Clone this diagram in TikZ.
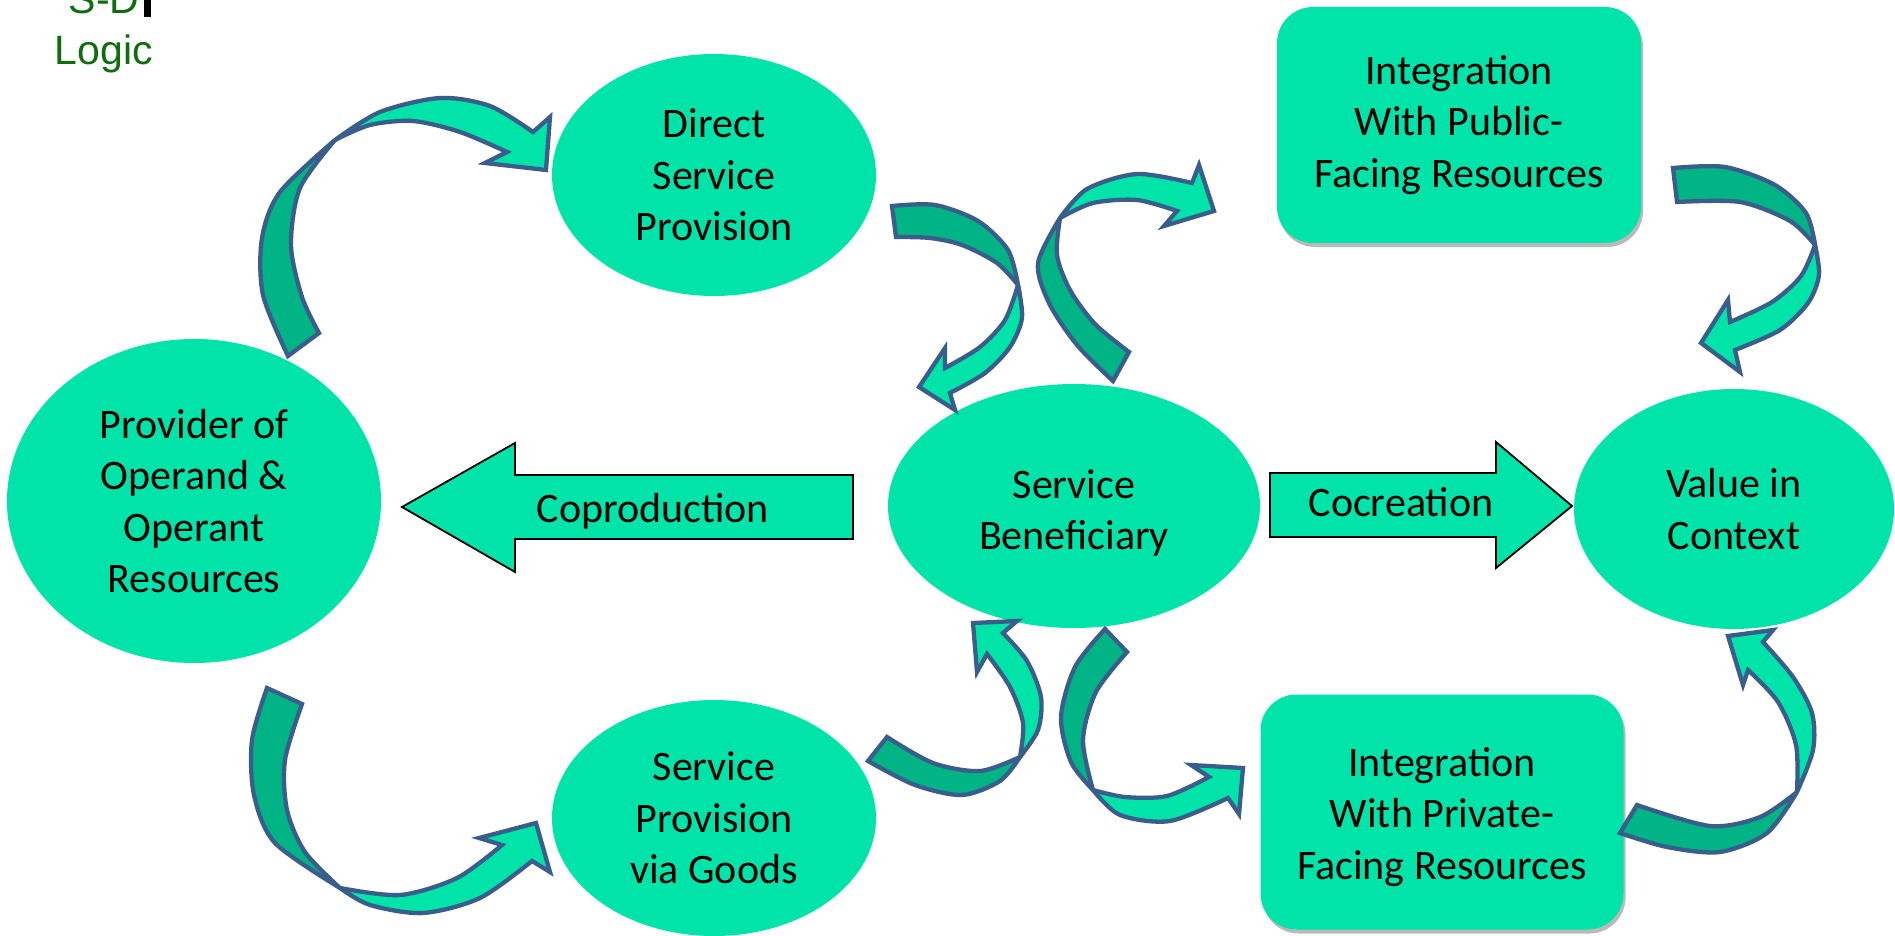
\documentclass[tikz,border=0pt]{standalone}
\usepackage{fontspec}
\setmainfont{Carlito}
\newfontfamily\logofont{Liberation Sans}
\usetikzlibrary{shapes.geometric,shadows}

\definecolor{mint}{HTML}{00E4A9}
\definecolor{mintdark}{HTML}{00B486}
\definecolor{rim}{HTML}{3A5E8C}
\definecolor{logogreen}{HTML}{0E6E0E}

\begin{document}
\begin{tikzpicture}[x=1pt,y=-1pt,
  labelfont/.style={font=\fontsize{42pt}{51.5pt}\selectfont},
  bubble/.style={ellipse, fill=mint, inner sep=0pt, align=center, labelfont},
  card/.style={rectangle, rounded corners=36pt, fill=mint, inner sep=0pt,
    drop shadow={shadow xshift=2pt, shadow yshift=-4pt, fill=black!45, opacity=0.6}},
  cardtext/.style={align=center, inner sep=0pt, labelfont},
  blockarrow/.style={fill=mint, draw=black, line width=1.8pt, line join=miter},
  backband/.style={fill=mintdark, draw=rim, line width=4.3pt, line join=miter, miter limit=4},
  frontband/.style={fill=mint, draw=rim, line width=4.3pt, line join=miter, miter limit=4},
  logo/.style={font=\logofont\fontsize{41pt}{49pt}\selectfont, text=logogreen, anchor=base, inner sep=0pt}]

\useasboundingbox (0,0) rectangle (1895,936);

% title in the corner
\node[logo] (sd) at (104,14) {S-D};
\node[logo] (logic) at (104,65) {Logic};
\fill (144,0) rectangle (151,17);

% main bubbles
\node[bubble, minimum width=374pt, minimum height=324pt] (provider) at (194,501)
  {Provider of\\Operand \&\\Operant\\Resources};
\node[bubble, minimum width=324pt, minimum height=242pt] (direct) at (714,175)
  {Direct\\Service\\Provision};
\node[bubble, minimum width=324pt, minimum height=236pt] (goods) at (714,818)
  {Service\\Provision\\via Goods};
\node[bubble, minimum width=372pt, minimum height=244pt] (benef) at (1074,506) {};
\node[cardtext] (beneftext) at ([yshift=-7pt]benef.center) {Service\\Beneficiary};
\node[bubble, minimum width=320pt, minimum height=240pt] (value) at (1734,509)
  {Value in\\Context};

% resource integration cards
\node[card, minimum width=364pt, minimum height=236pt] (public) at (1459,125) {};
\node[cardtext] (publictext) at (public.center) {Integration\\With Public-\\Facing Resources};
\node[card, minimum width=363pt, minimum height=235pt] (private) at (1442,812) {};
\node[cardtext] (privatetext) at ([yshift=-5pt]private.center) {Integration\\With Private-\\Facing Resources};

% block arrows
\draw[blockarrow] (853,475) -- (515,475) -- (515,443) -- (402,507) -- (515,572)
  -- (515,539) -- (853,539) -- cycle;
\node[labelfont, anchor=base, inner sep=0pt] (coprod) at (653,522) {Coproduction};

\draw[blockarrow] (1270,473) -- (1496,473) -- (1496,442) -- (1572,506) -- (1496,568)
  -- (1496,537) -- (1270,537) -- cycle;
\node[labelfont, anchor=base, inner sep=0pt] (cocreate) at (1401,516) {Cocreation};

% curved arrow: provider -> direct provision
\filldraw[backband] plot[smooth] coordinates {(288,356) (263,295) (262,238) (280,192) (335,140)}
  -- plot[smooth] coordinates {(335,140) (300,188) (291,245) (302,297) (319,333)} -- cycle;
\filldraw[frontband] plot[smooth] coordinates {(335,140) (380,112) (440,98) (490,106) (533,132)}
  -- (550,117) -- (546,170) -- (485,163) -- (507,152)
  -- plot[smooth] coordinates {(507,152) (460,132) (413,121) (370,125) (335,140)} -- cycle;

% curved arrow: direct provision -> beneficiary
\filldraw[backband] plot[smooth] coordinates {(892,206) (935,205) (978,221) (1008,250) (1018,285)}
  -- plot[smooth] coordinates {(1018,285) (997,263) (962,245) (930,238) (896,237)} -- cycle;
\filldraw[frontband] plot[smooth] coordinates {(1018,285) (1022,318) (1010,347) (985,373) (950,393)}
  -- (955,410) -- (919,387) -- (945,348) -- (945,368)
  -- plot[smooth] coordinates {(945,368) (980,347) (1005,320) (1018,285)} -- cycle;

% curved arrow: beneficiary -> public-facing resources
\filldraw[backband] plot[smooth] coordinates {(1113,381) (1077,345) (1049,303) (1038,263) (1060,218)}
  -- plot[smooth] coordinates {(1060,218) (1057,255) (1070,290) (1095,324) (1129,352)} -- cycle;
\filldraw[frontband] plot[smooth] coordinates {(1060,218) (1087,189) (1137,174) (1192,183)}
  -- (1199,165) -- (1214,211) -- (1164,226) -- (1177,211)
  -- plot[smooth] coordinates {(1177,211) (1137,200) (1093,203) (1060,218)} -- cycle;

% curved arrow: public-facing resources -> value in context
\filldraw[backband] plot[smooth] coordinates {(1673,168) (1725,167) (1775,185) (1806,213) (1815,245)}
  -- plot[smooth] coordinates {(1815,245) (1790,221) (1740,202) (1677,202)} -- cycle;
\filldraw[frontband] plot[smooth] coordinates {(1815,245) (1819,275) (1808,303) (1780,330) (1735,350)}
  -- (1740,372) -- (1701,343) -- (1728,300) -- (1730,322)
  -- plot[smooth] coordinates {(1730,322) (1772,302) (1801,276) (1815,245)} -- cycle;

% curved arrow: provider -> provision via goods
\filldraw[backband] plot[smooth] coordinates {(267,688) (252,740) (254,795) (275,843) (340,888)}
  -- plot[smooth] coordinates {(340,888) (305,852) (287,810) (285,760) (302,704)} -- cycle;
\filldraw[frontband] plot[smooth] coordinates {(340,888) (370,905) (423,913) (480,898) (532,861)}
  -- (550,872) -- (536,823) -- (479,838) -- (502,845)
  -- plot[smooth] coordinates {(502,845) (457,878) (400,895) (340,888)} -- cycle;

% curved arrow: provision via goods -> beneficiary
\filldraw[backband] plot[smooth] coordinates {(868,761) (915,785) (962,795) (1000,781) (1020,757)}
  -- plot[smooth] coordinates {(1020,757) (980,771) (933,763) (887,737)} -- cycle;
\filldraw[frontband] plot[smooth] coordinates {(1020,757) (1038,730) (1041,697) (1027,661) (1003,633)}
  -- (1017,621) -- (973,623) -- (977,672) -- (987,654)
  -- plot[smooth] coordinates {(987,654) (1010,687) (1023,723) (1020,757)} -- cycle;

% curved arrow: beneficiary -> private-facing resources
\filldraw[backband] plot[smooth] coordinates {(1105,629) (1075,667) (1061,717) (1071,762) (1093,790)}
  -- plot[smooth] coordinates {(1093,790) (1083,740) (1096,692) (1127,652)} -- cycle;
\filldraw[frontband] plot[smooth] coordinates {(1093,790) (1120,815) (1170,821) (1228,798)}
  -- (1239,814) -- (1243,768) -- (1191,765) -- (1209,777)
  -- plot[smooth] coordinates {(1209,777) (1167,796) (1125,797) (1093,790)} -- cycle;

% curved arrow: private-facing resources -> value in context
\filldraw[backband] plot[smooth] coordinates {(1620,833) (1667,847) (1720,852) (1767,833) (1797,792)}
  -- plot[smooth] coordinates {(1797,792) (1760,817) (1710,826) (1637,805)} -- cycle;
\filldraw[frontband] plot[smooth] coordinates {(1797,792) (1813,750) (1812,713) (1793,677) (1763,642)}
  -- (1773,630) -- (1728,636) -- (1743,685) -- (1748,670)
  -- plot[smooth] coordinates {(1748,670) (1778,702) (1796,745) (1797,792)} -- cycle;

\end{tikzpicture}
\end{document}
